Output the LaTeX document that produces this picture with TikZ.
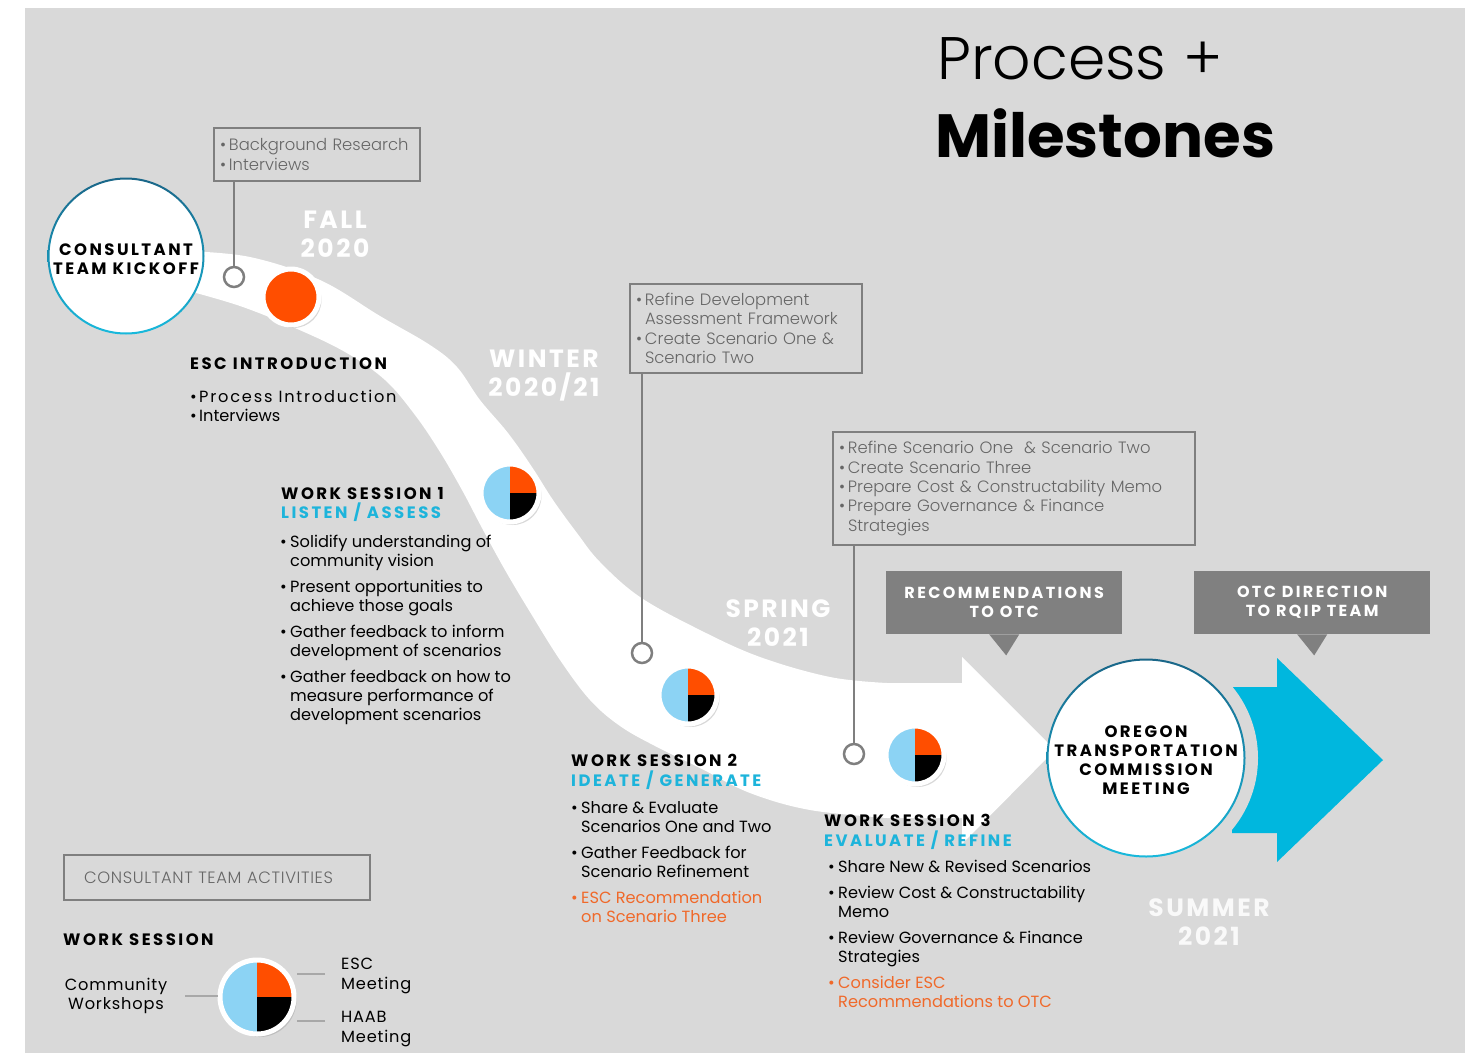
\documentclass[tikz,border=0pt]{standalone}
\usepackage{fontspec}
\setmainfont{Poppins}
\newfontfamily\hfont[LetterSpace=15]{Poppins}
\newfontfamily\sfont[LetterSpace=10]{Poppins}
\newfontfamily\wfont[LetterSpace=11]{Poppins}
\newfontfamily\lfont[LetterSpace=5]{Poppins}
\IfFontExistsTF{Poppins Light}{%
  \newfontfamily\thinfont{Poppins Light}%
  \newfontfamily\mfont[LetterSpace=4]{Poppins Light}%
}{%
  \newfontfamily\thinfont{Poppins}%
  \newfontfamily\mfont[LetterSpace=4]{Poppins}%
}
\usetikzlibrary{shadows,calc}
\definecolor{bggray}{HTML}{D9D9D9}
\definecolor{boxline}{HTML}{7F7F7F}
\definecolor{boxtext}{HTML}{666666}
\definecolor{callgray}{HTML}{808080}
\definecolor{headcyan}{HTML}{1DB4DB}
\definecolor{orangetxt}{HTML}{F0692A}
\definecolor{pieorange}{HTML}{FF4E00}
\definecolor{pieblue}{HTML}{8CD3F4}
\definecolor{tealdark}{HTML}{1A6688}
\definecolor{tealcyan}{HTML}{18B9DC}
\definecolor{arrowcyan}{HTML}{00B7DE}
\definecolor{legline}{HTML}{A8A8A8}
\newcommand\bi[1]{\makebox[10pt][l]{•}#1}
\newcommand\ci[1]{\hspace*{10pt}#1}
\newcommand\bj[1]{\makebox[9pt][l]{•}#1}
\begin{document}
\begin{tikzpicture}[x=1pt,y=-1pt,
  pie/.style={circle, inner sep=0pt, minimum size=#1, draw=white, line width=5pt,
    drop shadow={opacity=0.3, shadow xshift=2.5pt, shadow yshift=-3pt},
    path picture={
      \fill[pieblue] (path picture bounding box.south west) rectangle (path picture bounding box.north);
      \fill[pieorange] (path picture bounding box.center) rectangle (path picture bounding box.north east);
      \fill[black] (path picture bounding box.center) rectangle (path picture bounding box.south east);
    }},
  orangedot/.style={circle, inner sep=0pt, minimum size=56pt, fill=pieorange, draw=white, line width=5pt,
    drop shadow={opacity=0.3, shadow xshift=2.5pt, shadow yshift=-3pt}},
  hole/.style={circle, draw=boxline, fill=white, line width=2.5pt, minimum size=20pt, inner sep=0pt},
  gbox/.style={draw=boxline, line width=2pt, text=boxtext, font=\thinfont\fontsize{16.4}{19.3}\selectfont,
    align=left, inner ysep=0pt, inner xsep=6pt, anchor=north west},
  bubble/.style={fill=callgray, text=white, font=\hfont\bfseries\fontsize{16}{19}\selectfont,
    align=center, minimum width=236pt, minimum height=63pt, inner sep=0pt, anchor=north west},
  season/.style={text=white, font=\sfont\bfseries\fontsize{25}{29}\selectfont, align=center, inner sep=0pt},
  head/.style={font=\hfont\bfseries\fontsize{16.5}{19.5}\selectfont, align=left, inner sep=0pt, anchor=north west},
  body/.style={font=\fontsize{16.2}{19.1}\selectfont, align=left, inner sep=0pt, anchor=north west},
  bigcirc/.style={circle, fill=white, inner sep=0pt},
  circtext/.style={align=center, inner sep=0pt, font=\hfont\bfseries\fontsize{16.5}{19}\selectfont},
  conn/.style={draw=boxline, line width=2pt},
  legconn/.style={draw=legline, line width=1.5pt}
]
\useasboundingbox (0,0) rectangle (1480,1055);
\fill[white] (0,0) rectangle (1480,1055);
\fill[bggray] (25,8) rectangle (1465,1053);

% ribbon + white arrow
\fill[white] plot[smooth, tension=0.6] coordinates {(185,251) (250,257) (320,280) (380,316) (430,345) (457,367) (480,400) (508,433) (532,467) (553,500) (577,533) (600,562) (640,597) (700,630) (760,657) (830,677) (887,683)}
  -- (962,683) -- (962,657) -- (1055,750) -- (962,844) -- (962,818)
  -- plot[smooth, tension=0.6] coordinates {(887,818) (810,810) (750,793) (700,768) (655,746) (620,726) (590,700) (560,660) (530,612) (505,570) (482,528) (462,490) (440,452) (415,415) (385,380) (345,352) (295,328) (240,306) (185,290)} -- cycle;

% cyan arrow
\fill[arrowcyan] (1232,687) -- (1277,687) -- (1277,658) -- (1383,760) -- (1277,862) -- (1277,833) -- (1232,833) -- cycle;
\begin{scope}
  \clip (1146,600) rectangle (1300,920);
  \fill[bggray] (1146,758) circle (112);
\end{scope}

% title
\node[inner sep=0pt, anchor=north west, font=\thinfont\fontsize{60}{60}\selectfont] (t1) at (937,37) {Process +};
\node[inner sep=0pt, anchor=north west, font=\bfseries\fontsize{61}{61}\selectfont] (t2) at (935,108) {Milestones};

% big circles
\node[bigcirc, minimum size=154pt] (ko) at (126,256) {};
\shade[top color=tealdark, bottom color=tealcyan, even odd rule] (ko.center) circle (78.5) (ko.center) circle (76.5);
\node[circtext] (kot) at ($(ko.center)+(0,3)$) {CONSULTANT\\TEAM KICKOFF};
\node[bigcirc, minimum size=196pt] (otc) at (1146,758) {};
\shade[top color=tealdark, bottom color=tealcyan, even odd rule] (otc.center) circle (99.5) (otc.center) circle (97.5);
\node[circtext] (otct) at ($(otc.center)+(0,2)$) {OREGON\\TRANSPORTATION\\COMMISSION\\MEETING};

% season labels
\node[season] (fall) at (335,234) {FALL\\2020};
\node[season] (winter) at (544,376) {WINTER\\2020/21};
\node[season] (spring) at (778,623) {SPRING\\2021};
\node[season, text=white!95!gray] (summer) at (1209,922) {SUMMER\\2021};

% consultant activity boxes
\node[gbox, text width=194pt, minimum height=53pt] (ba) at (213,127) {\bj{Background Research}\\\bj{Interviews}};
\node[gbox, text width=220pt, minimum height=89pt] (bb) at (629,283) {\bj{Refine Development}\\\hspace*{9pt}Assessment Framework\\\bj{Create Scenario One \&}\\\hspace*{9pt}Scenario Two};
\node[gbox, text width=350pt, minimum height=113pt] (bc) at (832,431) {\bj{Refine Scenario One\ \ \& Scenario Two}\\\bj{Create Scenario Three}\\\bj{Prepare Cost \& Constructability Memo}\\\bj{Prepare Governance \& Finance}\\\hspace*{9pt}Strategies};

\node[hole] (ha) at (234,277) {};
\node[hole] (hb) at (642,653) {};
\node[hole] (hc) at (854,754) {};
\draw[conn] (ba.south -| ha.center) -- (ha.north);
\draw[conn] (bb.south -| hb.center) -- (hb.north);
\draw[conn] (bc.south -| hc.center) -- (hc.north);

% milestones on path
\node[orangedot] (esc) at (291,297) {};
\node[pie=58pt] (ws1) at (510,493) {};
\node[pie=58pt] (ws2) at (688,695) {};
\node[pie=58pt] (ws3) at (915,755) {};

% callouts
\node[bubble] (rec) at (886,571) {RECOMMENDATIONS\\TO OTC};
\fill[callgray] ($(rec.south)+(-15,0)$) -- ($(rec.south)+(15,0)$) -- ($(rec.south)+(2,21)$) -- cycle;
\node[bubble] (dir) at (1194,571) {OTC DIRECTION\\TO RQIP TEAM};
\fill[callgray] ($(dir.south)+(-15,0)$) -- ($(dir.south)+(15,0)$) -- ($(dir.south)+(2,21)$) -- cycle;

% ESC introduction
\node[head] (escH) at (190,358) {ESC INTRODUCTION};
\node[body] (escB) at (190,390) {\bj{\wfont Process Introduction}\\\bj{Interviews}};

% work session 1
\node[head] (w1H) at (281,487) {WORK SESSION 1\\\textcolor{headcyan}{LISTEN / ASSESS}};
\node[body] (w1B) at (280,535) {\bi{Solidify understanding of}\\\ci{community vision}\\[6.7pt]\bi{Present opportunities to}\\\ci{achieve those goals}\\[6.7pt]\bi{Gather feedback to inform}\\\ci{development of scenarios}\\[6.7pt]\bi{Gather feedback on how to}\\\ci{measure performance of}\\\ci{development scenarios}};

% work session 2
\node[head] (w2H) at (571,754) {WORK SESSION 2\\\textcolor{headcyan}{IDEATE / GENERATE}};
\node[body] (w2B) at (571,801) {\bi{Share \& Evaluate}\\\ci{Scenarios One and Two}\\[6.7pt]\bi{Gather Feedback for}\\\ci{Scenario Refinement}\\[6.7pt]\textcolor{orangetxt}{\bi{ESC Recommendation}}\\\textcolor{orangetxt}{\ci{on Scenario Three}}};

% work session 3
\node[head] (w3H) at (824,814) {WORK SESSION 3\\\textcolor{headcyan}{EVALUATE / REFINE}};
\node[body] (w3B) at (828,860) {\bi{Share New \& Revised Scenarios}\\[6.7pt]\bi{Review Cost \& Constructability}\\\ci{Memo}\\[6.7pt]\bi{Review Governance \& Finance}\\\ci{Strategies}\\[6.7pt]\textcolor{orangetxt}{\bi{Consider ESC}}\\\textcolor{orangetxt}{\ci{Recommendations to OTC}}};

% legend
\node[gbox, text width=266pt, minimum height=45pt, inner xsep=20pt, font=\mfont\fontsize{16.4}{19}\selectfont] (leg) at (63,854) {CONSULTANT TEAM ACTIVITIES};
\node[head] (legH) at (63,934) {WORK SESSION};
\node[pie=74pt] (lp) at (257,997) {};
\node[body, anchor=center, align=center, font=\lfont\fontsize{16.2}{19.5}\selectfont] (lcw) at (116,996) {Community\\Workshops};
\node[body, font=\lfont\fontsize{16.2}{19.5}\selectfont] (lesc) at (341,958) {ESC\\Meeting};
\node[body, font=\lfont\fontsize{16.2}{19.5}\selectfont] (lhaab) at (341,1011) {HAAB\\Meeting};
\coordinate (c1) at (185,996);
\coordinate (c2) at (325,974);
\coordinate (c3) at (325,1021);
\draw[legconn] (c1) -- (c1 -| lp.west);
\draw[legconn] (c2) -- (c2 -| lp.east);
\draw[legconn] (c3) -- (c3 -| lp.east);
\end{tikzpicture}
\end{document}
